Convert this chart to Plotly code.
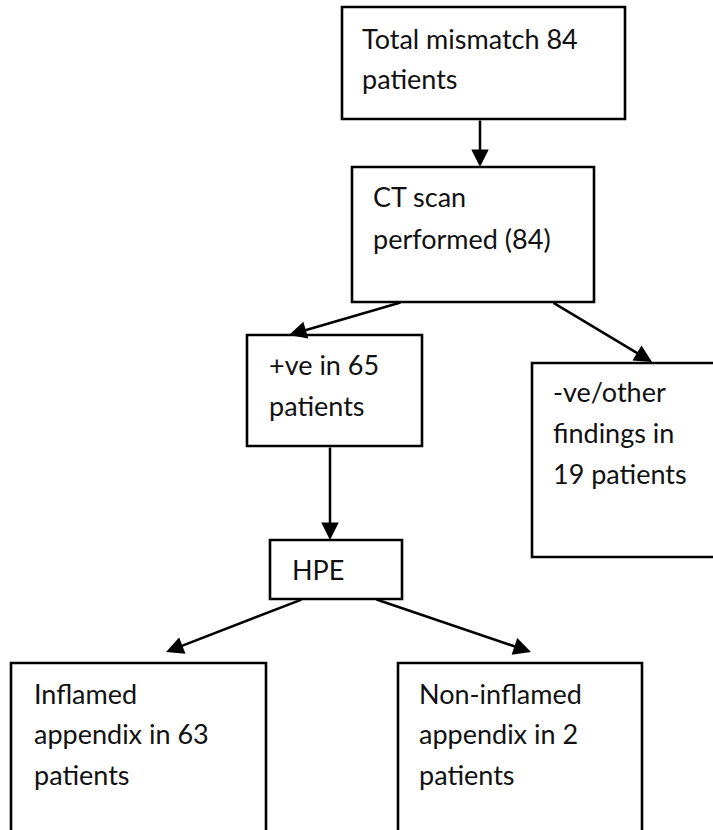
import plotly.graph_objects as go

# ---------------- data ----------------
node_labels = [
    ["Total mismatch 84", "patients"],
    ["CT scan", "performed (84)"],
    ["+ve in 65", "patients"],
    ["-ve/other", "findings in", "19 patients"],
    ["HPE"],
    ["Inflamed", "appendix in 63", "patients"],
    ["Non-inflamed", "appendix in 2", "patients"],
]
edges = [(0, 1), (1, 2), (1, 3), (2, 4), (4, 5), (4, 6)]

# ---------------- layout (pixel geometry) ----------------
W, H = 713, 830
box_geo = [
    (342, 7, 625, 119),
    (352, 167, 594, 302),
    (247, 335, 422, 446),
    (532, 363, 730, 557),
    (270, 540, 402, 599),
    (11, 663, 266, 845),
    (398, 663, 642, 845),
]
text_geo = [  # left x, first baseline y, line gap
    (362, 47, 40),
    (373, 205, 42),
    (269, 373, 41),
    (553, 400, 41),
    (292, 578, 41),
    (34, 702, 40.5),
    (419, 702, 40.5),
]
edge_geo = [  # tail x, tail y, tip x, tip y
    (480, 119, 480, 167),
    (402, 302, 289, 335),
    (552, 302, 652, 362),
    (330, 446, 330, 540),
    (303, 599, 166, 652),
    (375, 599, 531, 652),
]

FONT = dict(family="Lato, 'Noto Sans', sans-serif", size=27, color="#111111")
LW = 2.6

fig = go.Figure()
shapes = []
annotations = []

for (x0, y0, x1, y1) in box_geo:
    shapes.append(dict(type="rect", xref="x", yref="y", x0=x0, y0=y0, x1=x1, y1=y1,
                       line=dict(color="black", width=LW), fillcolor="rgba(0,0,0,0)"))

for lines, (tx, ty, gap) in zip(node_labels, text_geo):
    for i, line in enumerate(lines):
        annotations.append(dict(x=tx - 2, y=ty + i * gap - 9, xref="x", yref="y",
                                text=line, showarrow=False, xanchor="left", yanchor="middle",
                                font=FONT))

for (src, dst), (ax_, ay_, x_, y_) in zip(edges, edge_geo):
    annotations.append(dict(x=x_, y=y_, ax=ax_, ay=ay_, xref="x", yref="y",
                            axref="x", ayref="y", text="", showarrow=True,
                            arrowhead=2, arrowsize=1.4, arrowwidth=2.5,
                            arrowcolor="black", standoff=0, startstandoff=0))

fig.update_layout(
    width=W, height=H,
    margin=dict(l=0, r=0, t=0, b=0),
    paper_bgcolor="white", plot_bgcolor="white",
    xaxis=dict(range=[0, W], visible=False, fixedrange=True),
    yaxis=dict(range=[H, 0], visible=False, fixedrange=True),
    shapes=shapes, annotations=annotations, showlegend=False,
)

fig.write_html("out.html", config={"displayModeBar": False},
               post_script="document.body.style.margin='0';document.body.style.overflow='hidden';")
